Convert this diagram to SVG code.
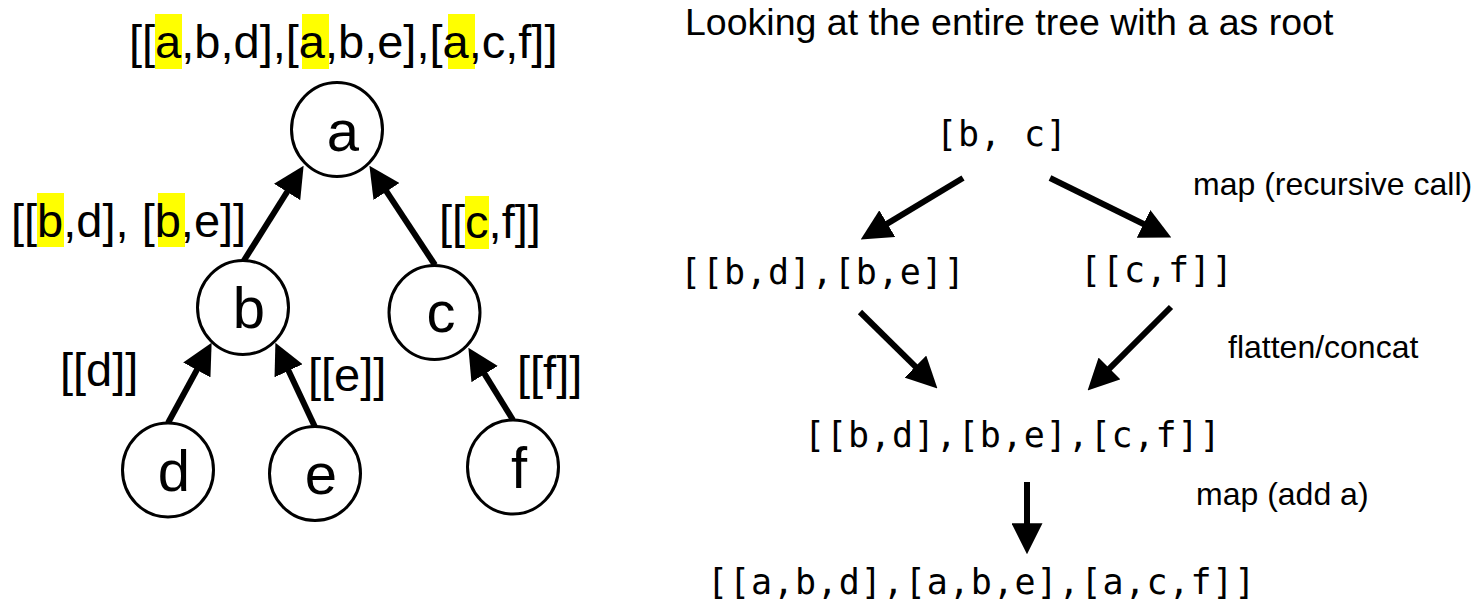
<svg xmlns="http://www.w3.org/2000/svg" width="1475" height="606" viewBox="0 0 1475 606">
<style>
.node ellipse{fill:#fff;stroke:#000;stroke-width:3}
.nl{font-family:"Liberation Sans",Arial,sans-serif;font-size:58px;text-anchor:middle;fill:#000}
.lab{font-family:"Liberation Sans",Arial,sans-serif;font-size:47px;fill:#000}
.sm{font-family:"Liberation Sans",Arial,sans-serif;font-size:32px;fill:#000}
.mono{font-family:"DejaVu Sans Mono",monospace;font-size:35px;letter-spacing:0.9px;fill:#000}
.hl{fill:#ffff00}
#connectors line{stroke:#000;stroke-width:6;fill:none;marker-end:url(#ah)}
</style>
<defs>
<marker id="ah" markerUnits="userSpaceOnUse" viewBox="0 0 32 32" markerWidth="31" markerHeight="31" refX="6" refY="16" orient="auto">
<path d="M0,0 L32,16 L0,32 z" fill="#000"/>
</marker>
</defs>
<rect width="1475" height="606" fill="#fff"/>

<g id="labels-left">
<rect class="hl" x="155" y="14" width="27" height="55"/>
<rect class="hl" x="302" y="14" width="27" height="55"/>
<rect class="hl" x="448" y="14" width="27" height="55"/>
<text class="lab" x="129" y="58">[[a,b,d],[a,b,e],[a,c,f]]</text>
<rect class="hl" x="37" y="193" width="27" height="54"/>
<rect class="hl" x="158" y="193" width="27" height="54"/>
<text class="lab" x="11" y="237">[[b,d], [b,e]]</text>
<rect class="hl" x="465" y="196" width="24" height="53"/>
<text class="lab" x="439" y="238">[[c,f]]</text>
<text class="lab" x="60" y="386">[[d]]</text>
<text class="lab" x="308" y="391">[[e]]</text>
<text class="lab" x="517" y="389">[[f]]</text>
</g>

<g id="connectors">
<line x1="243" y1="262" x2="290.2" y2="187"/>
<line x1="435" y1="265" x2="383.3" y2="186.7"/>
<line x1="168" y1="423" x2="199.6" y2="364.9"/>
<line x1="315" y1="427" x2="286.1" y2="365.5"/>
<line x1="513" y1="420" x2="481.6" y2="369.1"/>
<line x1="963" y1="178" x2="882.3" y2="226.6"/>
<line x1="1050" y1="178" x2="1148.7" y2="226.5"/>
<line x1="860" y1="312" x2="919.5" y2="370.7"/>
<line x1="1171" y1="307" x2="1105.4" y2="372.6"/>
<line x1="1027" y1="482" x2="1027" y2="529"/>
</g>

<g id="node-a" class="node"><ellipse cx="337" cy="129.5" rx="45.5" ry="47"/><text class="nl" x="343" y="151">a</text></g>
<g id="node-b" class="node"><ellipse cx="243" cy="307.5" rx="45.5" ry="47"/><text class="nl" x="249" y="328">b</text></g>
<g id="node-c" class="node"><ellipse cx="434.5" cy="312.5" rx="45.5" ry="47"/><text class="nl" x="441" y="332">c</text></g>
<g id="node-d" class="node"><ellipse cx="168" cy="470" rx="45.5" ry="47"/><text class="nl" x="174" y="491">d</text></g>
<g id="node-e" class="node"><ellipse cx="315" cy="473.5" rx="45.5" ry="47"/><text class="nl" x="321" y="494">e</text></g>
<g id="node-f" class="node"><ellipse cx="513" cy="467" rx="45.5" ry="47"/><text class="nl" x="519" y="488">f</text></g>

<g id="right-side">
<text class="lab" style="font-size:37.5px" x="685" y="35">Looking at the entire tree with a as root</text>
<g id="n-bc"><text class="mono" x="936" y="146">[b, c]</text></g>
<g id="n-bdbe"><text class="mono" x="680" y="284">[[b,d],[b,e]]</text></g>
<g id="n-cf"><text class="mono" x="1080" y="282">[[c,f]]</text></g>
<g id="n-merged"><text class="mono" x="804" y="447">[[b,d],[b,e],[c,f]]</text></g>
<g id="n-final"><text class="mono" x="707" y="594">[[a,b,d],[a,b,e],[a,c,f]]</text></g>
<text class="sm" x="1193" y="195">map (recursive call)</text>
<text class="sm" x="1228" y="358">flatten/concat</text>
<text class="sm" x="1196" y="505">map (add a)</text>
</g>
</svg>
